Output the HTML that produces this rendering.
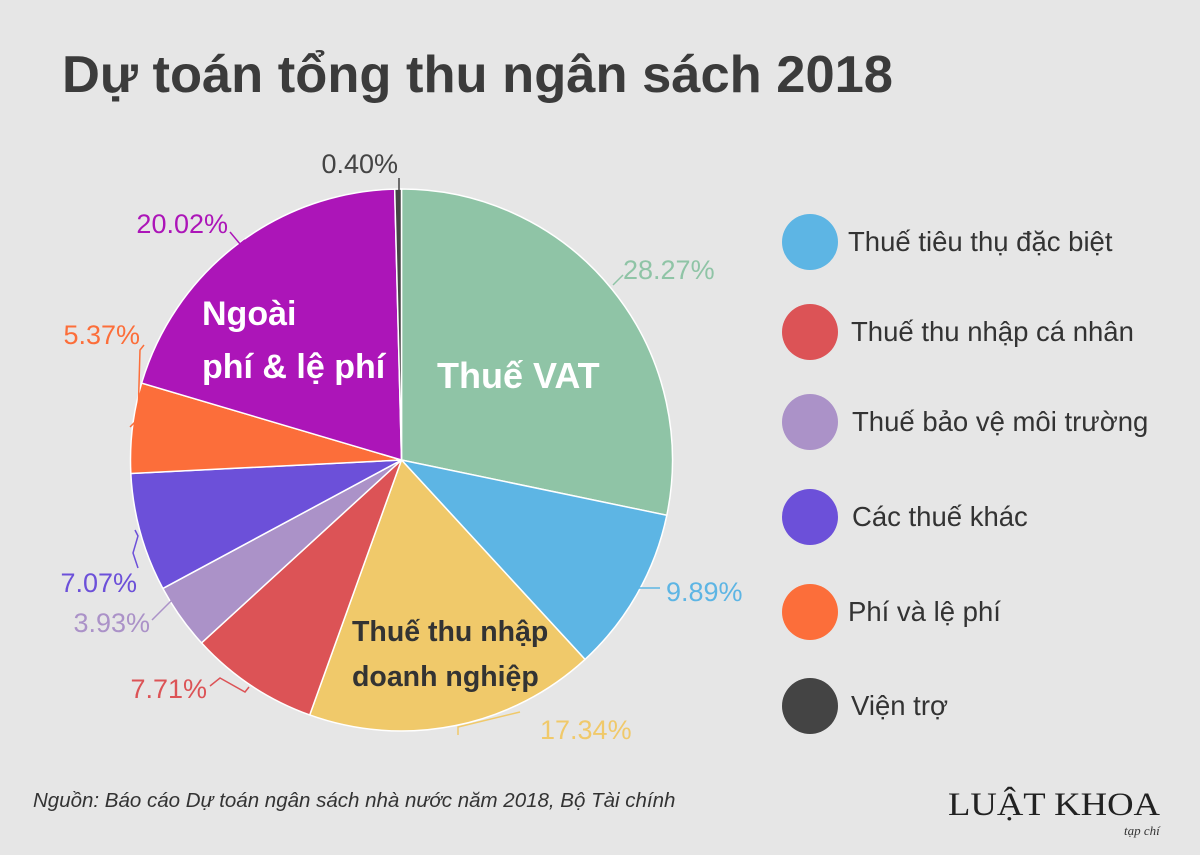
<!DOCTYPE html>
<html><head><meta charset="utf-8"><style>
body{margin:0;background:#e6e6e6;}
svg{display:block;font-family:"Liberation Sans",sans-serif;}
</style></head><body>
<svg id="s" width="1200" height="855" viewBox="0 0 1200 855">
<rect width="1200" height="855" fill="#e6e6e6"/>
<text x="62" y="92" font-size="52" font-weight="bold" fill="#3b3b3b" textLength="831" lengthAdjust="spacingAndGlyphs">Dự toán tổng thu ngân sách 2018</text>
<g id="pie"></g>
<g font-size="27">
<text x="623" y="279" fill="#8fc4a6">28.27%</text>
<text x="666" y="601" fill="#5db5e4">9.89%</text>
<text x="540" y="739" fill="#f0c96a">17.34%</text>
<text x="207" y="698" fill="#dc5356" text-anchor="end">7.71%</text>
<text x="150" y="632" fill="#ab92c8" text-anchor="end">3.93%</text>
<text x="137" y="592" fill="#6c50d9" text-anchor="end">7.07%</text>
<text x="140" y="344" fill="#fc6e3a" text-anchor="end">5.37%</text>
<text x="228" y="233" fill="#ac15b8" text-anchor="end">20.02%</text>
<text x="398" y="173" fill="#444" text-anchor="end">0.40%</text>
</g>
<g fill="none" stroke-width="1.5">
<polyline points="613,285 623,275" stroke="#8fc4a6"/>
<polyline points="637,588 660,588" stroke="#5db5e4"/>
<polyline points="520,712 458,727 458,735" stroke="#f0c96a"/>
<polyline points="210,686 220,678 245,692 249,687" stroke="#dc5356"/>
<polyline points="152,620 172,600 180,608" stroke="#ab92c8"/>
<polyline points="138,568 133,553 138,536 135,530" stroke="#6c50d9"/>
<polyline points="130,427 138,419 140,350 144,345" stroke="#fc6e3a"/>
<polyline points="230,232 240,244 245,240" stroke="#ac15b8"/>
<polyline points="399,178 399,190" stroke="#444"/>
</g>
<g font-weight="bold" fill="#fff">
<text x="437" y="388" font-size="36">Thuế VAT</text>
<text x="202" y="325" font-size="34">Ngoài</text>
<text x="202" y="378" font-size="34">phí &amp; lệ phí</text>
</g>
<g font-weight="bold" fill="#333" font-size="28.5">
<text x="352" y="641">Thuế thu nhập</text>
<text x="352" y="686">doanh nghiệp</text>
</g>
<g font-size="27.5" fill="#333">
<circle cx="810" cy="242" r="28" fill="#5db5e4"/><text x="848" y="251">Thuế tiêu thụ đặc biệt</text>
<circle cx="810" cy="332" r="28" fill="#dc5356"/><text x="851" y="341">Thuế thu nhập cá nhân</text>
<circle cx="810" cy="422" r="28" fill="#ab92c8"/><text x="852" y="431">Thuế bảo vệ môi trường</text>
<circle cx="810" cy="517" r="28" fill="#6c50d9"/><text x="852" y="526">Các thuế khác</text>
<circle cx="810" cy="612" r="28" fill="#fc6e3a"/><text x="848" y="621">Phí và lệ phí</text>
<circle cx="810" cy="706" r="28" fill="#444"/><text x="851" y="715">Viện trợ</text>
</g>
<text x="33" y="807" font-size="20.5" font-style="italic" fill="#333">Nguồn: Báo cáo Dự toán ngân sách nhà nước năm 2018, Bộ Tài chính</text>
<text x="948" y="815" font-size="33" font-family="Liberation Serif,serif" fill="#222" textLength="212" lengthAdjust="spacingAndGlyphs">LUẬT KHOA</text>
<text x="1124" y="835" font-size="13" font-style="italic" font-family="Liberation Serif,serif" fill="#333">tạp chí</text>
</svg>
<script>
var d=[[28.27,"#8fc4a6"],[9.89,"#5db5e4"],[17.34,"#f0c96a"],[7.71,"#dc5356"],[3.93,"#ab92c8"],[7.07,"#6c50d9"],[5.37,"#fc6e3a"],[20.02,"#ac15b8"],[0.40,"#444"]];
var cx=401.5,cy=460,r=271,a=0,h="";
function p(t){var g=t/100*2*Math.PI;return (cx+r*Math.sin(g)).toFixed(2)+","+(cy-r*Math.cos(g)).toFixed(2);}
d.forEach(function(e){var b=a+e[0];h+='<path d="M'+cx+','+cy+' L'+p(a)+' A'+r+','+r+' 0 '+(e[0]>50?1:0)+' 1 '+p(b)+' Z" fill="'+e[1]+'" stroke="#fff" stroke-width="1.5"/>';a=b;});
document.getElementById("pie").innerHTML=h;
</script>
</body></html>
